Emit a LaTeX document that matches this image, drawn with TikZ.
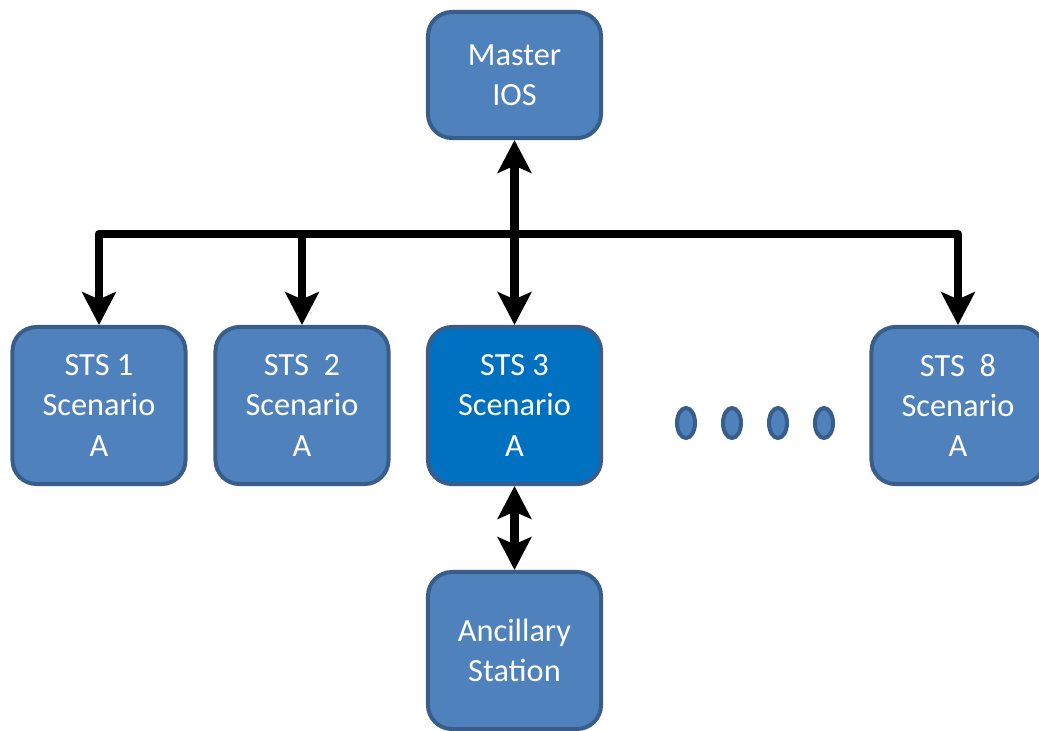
\documentclass[tikz,border=0pt]{standalone}
\usepackage{fontspec}
\setmainfont{Carlito}
\usetikzlibrary{arrows.meta,shapes.geometric}
\definecolor{boxfill}{HTML}{4F81BD}
\definecolor{boxline}{HTML}{385D8A}
\definecolor{hilite}{HTML}{0070C0}
\tikzset{
  station/.style={draw=boxline, fill=boxfill, line width=0.1cm, rounded corners=0.6cm,
    minimum width=4.325cm, minimum height=3.925cm, inner sep=0pt, align=center,
    text=white, font=\fontsize{23}{28.5}\selectfont},
  flow/.style={line width=0.21cm, line join=round,
    >={Stealth[length=0.82cm, width=0.84cm, inset=0.18cm]}},
  dotmark/.style={ellipse, draw=boxline, fill=boxfill, line width=0.1cm,
    minimum width=0.45cm, minimum height=0.75cm, inner sep=0pt}
}
\begin{document}
\begin{tikzpicture}[x=0.025cm,y=-0.025cm]
\useasboundingbox (0,0) rectangle (1039,730);

\node[station, minimum height=3.15cm] (master) at (514.5,75) {Master\\IOS};
\node[station] (sts1) at (99,405.5) {STS 1\\Scenario\\A};
\node[station] (sts2) at (302,405.5) {STS\ \ 2\\Scenario\\A};
\node[station, fill=hilite] (sts3) at (514.5,405.5) {STS 3\\Scenario\\A};
\node[station] (sts8) at (958,405.5) {STS\ \ 8\\Scenario\\A};
\node[station] (anc) at (514.5,650.5) {Ancillary\\Station};

\foreach \x [count=\i] in {686,732,778,824}
  \node[dotmark] (dot\i) at (\x,423) {};

\coordinate (busL) at (99,234);
\coordinate (busR) at (958,234);

\draw[flow, <->] (sts1.north) |- (busR) -- (sts8.north);
\draw[flow, ->] (sts2.north |- busL) -- (sts2.north);
\draw[flow, <->] (master.south) -- (sts3.north);
\draw[flow, <->] (sts3.south) -- (anc.north);

\end{tikzpicture}
\end{document}
